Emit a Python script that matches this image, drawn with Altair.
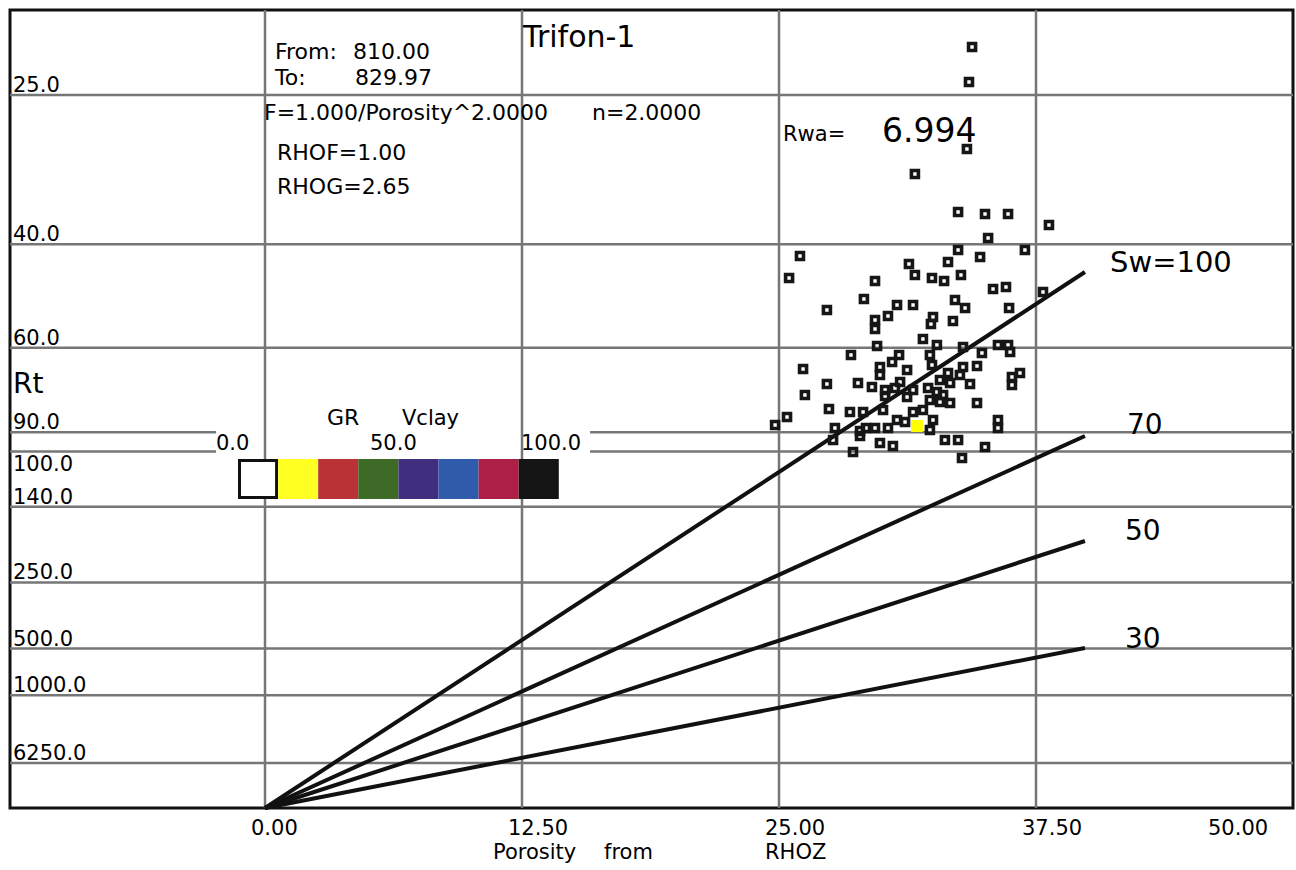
import altair as alt
import pandas as pd
import numpy as np

# ---------------- data ----------------
# scatter points: porosity (%) and Rt (ohm.m)
phi_pts = [34.39, 34.24, 34.14, 31.61, 33.71, 35.02, 36.14, 38.13, 35.17, 26.02,
           25.49, 29.67, 29.13, 27.33, 30.74, 30.30, 29.67, 29.67, 31.32, 31.52,
           33.71, 34.78, 36.96, 33.22, 31.61, 32.44, 33.03, 33.85, 35.41, 36.04,
           37.84, 33.56, 34.05, 36.19, 32.49, 32.39, 33.46, 32.00, 32.68, 33.95,
           35.65, 36.14, 29.77, 28.50, 30.84, 30.50, 26.17, 29.91, 29.91, 31.23,
           27.33, 28.84, 29.52, 30.16, 30.64, 30.89, 26.26, 30.16, 31.23, 27.43,
           28.45, 29.09, 30.06, 25.39, 24.81, 27.72, 28.94, 29.23, 29.67, 30.30,
           30.74, 31.13, 28.94, 27.63, 29.91, 30.54, 28.60, 32.34, 34.87, 36.24,
           32.44, 33.95, 34.63, 36.33, 36.72, 36.33, 33.22, 33.80, 32.83, 33.32,
           34.29, 31.52, 32.25, 32.68, 32.34, 32.98, 32.83, 33.32, 34.63, 31.52,
           32.00, 32.49, 32.34, 35.65, 35.65, 33.07, 33.71, 35.02, 33.90]
rt_pts = [21.95, 24.12, 29.27, 31.63, 35.79, 36.03, 36.03, 37.40, 39.13, 41.72,
          45.26, 45.77, 49.07, 51.26, 50.25, 52.52, 53.38, 55.41, 42.96, 50.25,
          40.83, 41.87, 40.83, 42.64, 44.75, 45.26, 45.77, 44.75, 47.20, 46.83,
          47.75, 49.26, 50.85, 50.85, 52.73, 54.27, 53.60, 57.80, 59.30, 59.82,
          59.30, 59.30, 59.56, 61.95, 61.95, 63.91, 65.96, 65.37, 67.81, 66.27,
          70.71, 70.38, 71.73, 72.76, 72.07, 70.05, 74.53, 74.89, 75.26, 79.85,
          81.07, 81.07, 80.26, 83.15, 86.67, 88.04, 89.45, 88.04, 88.04, 88.04,
          84.45, 85.32, 91.87, 93.87, 95.42, 97.01, 100.31, 61.95, 61.41, 61.14,
          64.78, 65.37, 65.07, 68.44, 67.18, 71.05, 67.18, 67.81, 69.40, 70.38,
          70.71, 72.76, 72.07, 73.46, 76.37, 74.53, 77.12, 77.51, 77.51, 81.07,
          80.26, 84.45, 88.97, 84.45, 88.04, 93.87, 93.87, 97.55, 103.78]
yellow_phi = [31.71]
yellow_rt = [87.12]

# Sw lines (from the origin to their right-hand ends)
sw_values = [100, 70, 50, 30]
sw_end_phi = 39.88
sw_end_rt = [44.25, 91.87, 178.3, 496.6]

# grid
grid_phi = [0.0, 12.5, 25.0, 37.5]
grid_rt_full = [25, 40, 60, 140, 250, 500, 1000, 6250]
grid_rt_split = [90, 100]
rt_labels = [25, 40, 60, 90, 140, 250, 500, 1000, 6250]
rt_label_low = [100]
x_ticks = [0.0, 12.5, 25.0, 37.5]
x_tick_last = "50.00"

legend_colors = ["#ffffff", "#ffff22", "#b83236", "#3e6a28",
                 "#3f2f7e", "#2f5caa", "#ad1f45", "#141414"]

# ---------------- helpers ----------------
W, H = 1283, 798
FONT = "DejaVu Sans"
INK = "#000000"
GRID = "#767676"
xs = alt.Scale(domain=[-12.403, 50.0], nice=False, zero=False)
ys = alt.Scale(domain=[0, 0.22381], nice=False, zero=False)


def u_of(rt):
    return 1.0 / np.sqrt(np.asarray(rt, dtype=float))


X = lambda f: alt.X(f, scale=xs, axis=None)
Y = lambda f: alt.Y(f, scale=ys, axis=None)

pts = pd.DataFrame({"phi": phi_pts, "u": u_of(rt_pts)})
yel = pd.DataFrame({"phi": yellow_phi, "u": u_of(yellow_rt)})

rows = []
for sw, rt in zip(sw_values, sw_end_rt):
    rows.append({"sw": sw, "phi": 0.0, "u": 0.0})
    rows.append({"sw": sw, "phi": sw_end_phi, "u": float(u_of([rt])[0])})
swdf = pd.DataFrame(rows)

vgrid = alt.Chart(pd.DataFrame({"phi": grid_phi})).mark_rule(
    color=GRID, strokeWidth=2.5).encode(x=X("phi:Q"))
hgrid = alt.Chart(pd.DataFrame({"u": u_of(grid_rt_full)})).mark_rule(
    color=GRID, strokeWidth=2.5).encode(y=Y("u:Q"))

seg_rows = []
for rt in grid_rt_split:
    seg_rows.append({"u": float(u_of([rt])[0]), "x0": -12.403, "x1": -2.38})
    seg_rows.append({"u": float(u_of([rt])[0]), "x0": 15.81, "x1": 50.0})
hseg = alt.Chart(pd.DataFrame(seg_rows)).mark_rule(
    color=GRID, strokeWidth=2.5).encode(y=Y("u:Q"), x=X("x0:Q"), x2="x1:Q")

swlines = alt.Chart(swdf).mark_line(color="#111111", strokeWidth=4).encode(
    x=X("phi:Q"), y=Y("u:Q"), detail="sw:N")

points = alt.Chart(pts).mark_point(
    shape="square", filled=False, size=49, strokeWidth=3.6, color="#161616",
    opacity=1).encode(x=X("phi:Q"), y=Y("u:Q"))
yellow = alt.Chart(yel).mark_point(
    shape="square", filled=True, size=144, color="#ffff00", opacity=1,
    strokeWidth=0).encode(x=X("phi:Q"), y=Y("u:Q"))

lab_df = pd.DataFrame({"u": u_of(rt_labels),
                       "lab": [f"{v:.1f}" for v in rt_labels]})
rtlab = alt.Chart(lab_df).mark_text(
    align="left", baseline="alphabetic", dy=-3, fontSize=21, font=FONT,
    color=INK).encode(x=alt.value(3), y=Y("u:Q"), text="lab:N")
lab2_df = pd.DataFrame({"u": u_of(rt_label_low),
                        "lab": [f"{v:.1f}" for v in rt_label_low]})
rtlab2 = alt.Chart(lab2_df).mark_text(
    align="left", baseline="alphabetic", dy=20, fontSize=21, font=FONT,
    color=INK).encode(x=alt.value(3), y=Y("u:Q"), text="lab:N")

xt_df = pd.DataFrame({"v": x_ticks, "lab": [f"{v:.2f}" for v in x_ticks]})
xtl = alt.Chart(xt_df).mark_text(
    align="left", baseline="alphabetic", dx=-14, fontSize=21, font=FONT,
    color=INK).encode(x=X("v:Q"), y=alt.value(825), text="lab:N")

one = pd.DataFrame({"a": [0]})


def txt(s, x, y, size=22, **kw):
    return alt.Chart(one).mark_text(
        text=s, align="left", baseline="alphabetic", fontSize=size,
        font=FONT, color=INK, **kw).encode(x=alt.value(x), y=alt.value(y))


texts = [
    txt(x_tick_last, 1198, 825, 21),
    txt("Porosity", 483, 849, 21),
    txt("from", 594, 849, 21),
    txt("RHOZ", 755, 849, 21),
    txt("Trifon-1", 513, 37, 30),
    txt("From:", 265, 49),
    txt("810.00", 343, 49),
    txt("To:", 265, 75),
    txt("829.97", 345, 75),
    txt("F=1.000/Porosity^2.0000", 254, 110),
    txt("n=2.0000", 582, 110),
    txt("RHOF=1.00", 267, 150),
    txt("RHOG=2.65", 267, 184),
    txt("Rwa=", 773, 131, 21),
    txt("6.994", 872, 132, 33),
    txt("Rt", 3, 383, 28),
    txt("Sw=100", 1100, 262, 29),
    txt("70", 1117, 424, 28),
    txt("50", 1115, 530, 28),
    txt("30", 1115, 638, 28),
    txt("GR", 317, 415, 22),
    txt("Vclay", 392, 415, 21),
    txt("0.0", 206, 440, 21),
    txt("50.0", 360, 440, 21),
    txt("100.0", 511, 440, 21),
]

legend = []
x0, step = 228.0, 40.1
for i, c in enumerate(legend_colors):
    kw = dict(color=c)
    if i == 0:
        kw = dict(fill="#ffffff", stroke="#111111", strokeWidth=3)
    legend.append(alt.Chart(one).mark_rect(**kw).encode(
        x=alt.value(x0 + step * i + (1.5 if i == 0 else 0)),
        x2=alt.value(x0 + step * (i + 1) - (1.5 if i == 0 else 0)),
        y=alt.value(449 + (1.5 if i == 0 else 0)),
        y2=alt.value(489 - (1.5 if i == 0 else 0))))

chart = alt.layer(
    vgrid, hgrid, hseg, swlines, points, yellow, rtlab, rtlab2, xtl,
    *legend, *texts
).properties(
    width=W, height=H,
    padding={"left": 10, "top": 10, "right": 3, "bottom": 62},
    autosize=alt.AutoSizeParams(type="none"),
    background="white",
).configure_view(stroke="#111111", strokeWidth=3)

chart.save("out.html", embed_options={"renderer": "svg", "actions": False})
